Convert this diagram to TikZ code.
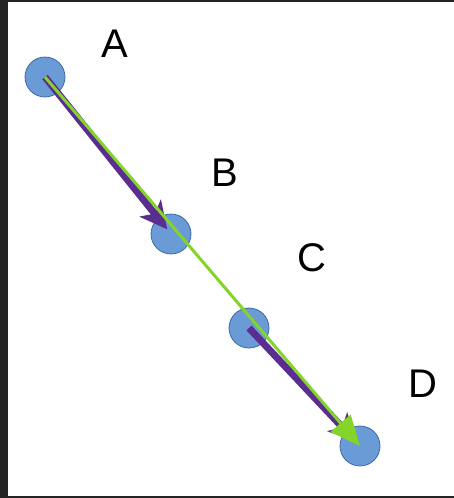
\documentclass[tikz,border=0pt]{standalone}
\usepackage{fontspec}
\setmainfont{Liberation Sans}
\usetikzlibrary{arrows.meta, positioning}

\definecolor{frameGray}{HTML}{242424}
\definecolor{dotBlue}{HTML}{6B9BD6}
\definecolor{dotEdge}{HTML}{3D6AA5}
\definecolor{stepPurple}{HTML}{5A2D91}
\definecolor{pathGreen}{HTML}{84D42A}

\begin{document}
\begin{tikzpicture}[
    x=1pt, y=-1pt,
    dot/.style={circle, draw=dotEdge, fill=dotBlue, line width=0.8pt, minimum size=40pt, inner sep=0pt},
    letter/.style={font=\fontsize{40}{48}\selectfont, inner sep=0pt},
    hop/.style={-{Stealth[length=27pt, width=27pt, inset=7pt]}, line width=7pt, color=stepPurple, shorten >=6pt, xshift=-2pt, yshift=-2pt},
    jump/.style={-{Triangle[length=30pt, width=26pt]}, line width=3pt, color=pathGreen}
]
% frame
\fill[frameGray] (0,0) rectangle (454,498);
\fill[white] (8,2) rectangle (454,496);
\useasboundingbox (0,0) rectangle (454,498);

\node[dot] (a) at (45,77) {};
\node[dot] (b) at (171,234) {};
\node[dot] (c) at (249,328) {};
\node[dot] (d) at (360,446) {};

\node[letter] (la) at (114.5,44) {A};
\node[letter] (lb) at (225,173) {B};
\node[letter] (lc) at (312,258) {C};
\node[letter] (ld) at (423,384) {D};

\draw[hop] (a.center) -- (b.center);
\draw[hop] (c.center) -- (d.center);
\draw[jump] (a.center) -- (d.center);
\end{tikzpicture}
\end{document}
